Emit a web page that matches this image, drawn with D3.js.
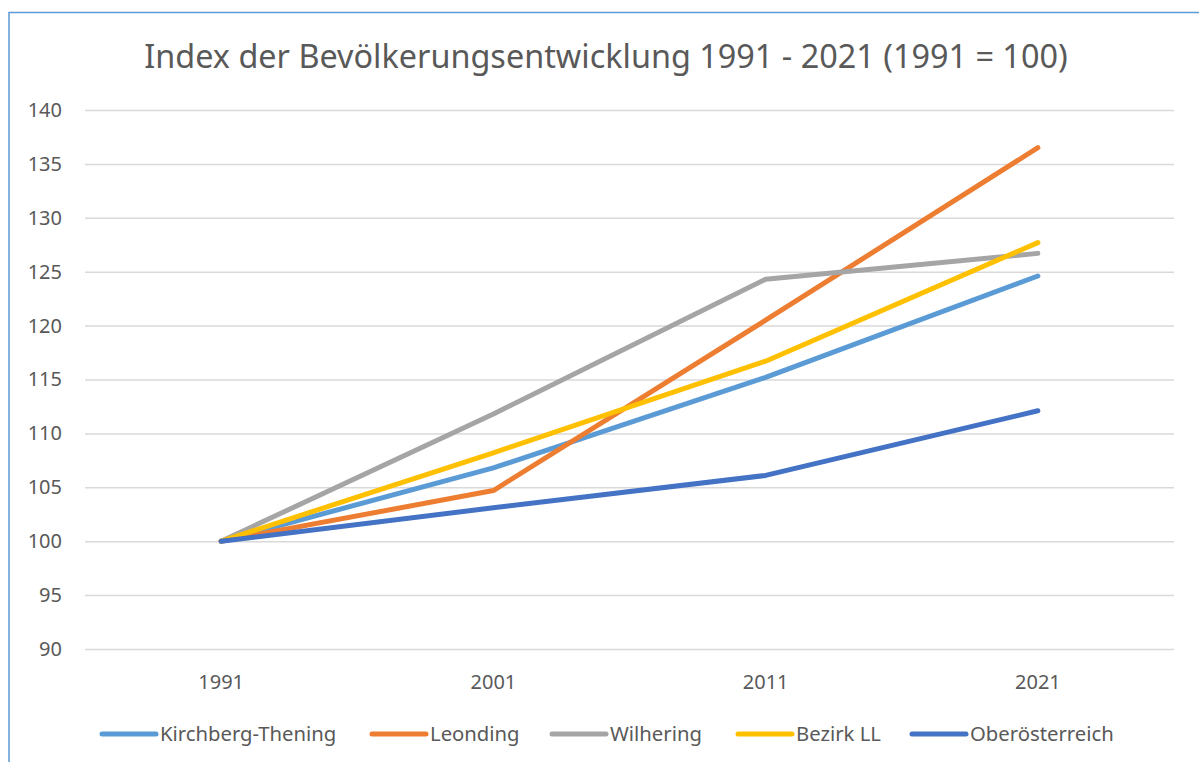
<!DOCTYPE html>
<html><head><meta charset="utf-8">
<script src="https://cdn.jsdelivr.net/npm/d3@7"></script>
<style>body{margin:0;background:#fff;}svg{display:block;font-family:"Noto Sans",sans-serif;}</style>
</head><body>
<svg id="c" width="1199" height="762"></svg>
<script>
const years = ["1991","2001","2011","2021"];
const seriesNames = ["Kirchberg-Thening","Leonding","Wilhering","Bezirk LL","Oberösterreich"];
const kirchberg = [100, 106.8, 115.2, 124.6];
const leonding = [100, 104.7, 120.5, 136.5];
const wilhering = [100, 111.8, 124.3, 126.7];
const bezirkLL = [100, 108.2, 116.7, 127.7];
const ooe = [100, 103.1, 106.1, 112.1];
const yTicks = [90, 95, 100, 105, 110, 115, 120, 125, 130, 135, 140];
const colors = ["#5B9BD5", "#ED7D31", "#A5A5A5", "#FFC000", "#4472C4"];
const title = "Index der Bevölkerungsentwicklung 1991 - 2021 (1991 = 100)";

const series = [kirchberg, leonding, wilhering, bezirkLL, ooe];
const svg = d3.select("#c");
const FONT = "'Noto Sans',sans-serif";

// border
svg.append("path").attr("d","M9,762V12.5H1199").attr("fill","none").attr("stroke","#5B9BD5").attr("stroke-width",1.5);

const x = d3.scaleBand().domain(years).range([85,1174]);
const y = d3.scaleLinear().domain([90,140]).range([649,110]);

svg.append("text").attr("x",606).attr("y",68).attr("text-anchor","middle")
  .attr("font-size",32.4).attr("fill","#595959").text(title);

const yAxis = d3.axisLeft(y).tickValues(yTicks).tickSize(-(1174-85)).tickPadding(23);
const gy = svg.append("g").attr("transform","translate(85,0)").call(yAxis);
gy.select(".domain").remove();
gy.selectAll(".tick line").attr("stroke","#D9D9D9").attr("stroke-width",1.5);
gy.selectAll(".tick text").attr("font-size",20).attr("fill","#595959").attr("font-family",FONT);

const xAxis = d3.axisBottom(x).tickSize(0).tickPadding(26);
const gx = svg.append("g").attr("transform","translate(0,649)").call(xAxis);
gx.select(".domain").remove();
gx.selectAll(".tick text").attr("font-size",20).attr("fill","#595959").attr("font-family",FONT);

const line = d3.line().x((d,i)=>x(years[i])+x.bandwidth()/2).y(d=>y(d));
series.forEach((s,k)=>{
  svg.append("path").datum(s).attr("d",line).attr("fill","none")
    .attr("stroke",colors[k]).attr("stroke-width",5).attr("stroke-linecap","round").attr("stroke-linejoin","round");
});

const legX = [102, 372, 552, 738, 912];
const lg = svg.append("g");
seriesNames.forEach((n,k)=>{
  lg.append("line").attr("x1",legX[k]).attr("x2",legX[k]+54).attr("y1",734).attr("y2",734)
    .attr("stroke",colors[k]).attr("stroke-width",5).attr("stroke-linecap","round");
  lg.append("text").attr("x",legX[k]+58).attr("y",741).attr("font-size",20.3).attr("fill","#595959").text(n);
});
</script>
</body></html>
